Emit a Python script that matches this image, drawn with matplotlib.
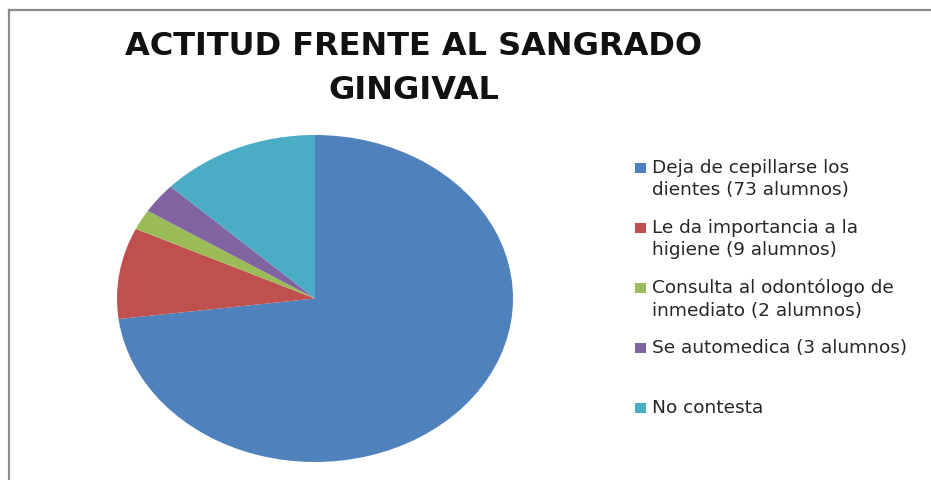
"""Pie chart: actitud frente al sangrado gingival."""

import matplotlib
matplotlib.use("Agg")
import matplotlib.pyplot as plt
from matplotlib.lines import Line2D
from matplotlib.patches import Rectangle

W, H = 931, 481

categories = [
    "Deja de cepillarse los\ndientes (73 alumnos)",
    "Le da importancia a la\nhigiene (9 alumnos)",
    "Consulta al odontólogo de\ninmediato (2 alumnos)",
    "Se automedica (3 alumnos)",
    "No contesta",
]
alumnos = [73, 9, 2, 3, 13]
colors = ["#4F81BD", "#C0504D", "#9BBB59", "#8064A2", "#4BACC6"]
title = "ACTITUD FRENTE AL SANGRADO\nGINGIVAL"


def px(x, y):
    """Pixel position (top-left origin) to figure fraction."""
    return x / W, 1 - y / H


plt.rcParams["font.family"] = ["DejaVu Sans"]

fig = plt.figure(figsize=(W / 100, H / 100), dpi=100)
fig.patch.set_facecolor("white")

# pie area: x 117..513, y 136..463 (elliptical, like the original)
left, top = px(117, 136)
right, bottom = px(513, 463)
ax = fig.add_axes([left, bottom, right - left, top - bottom])
ax.pie(alumnos, colors=colors, startangle=90, counterclock=False,
       wedgeprops={"linewidth": 0})
ax.set_aspect("auto")
ax.set_xlim(-1, 1)
ax.set_ylim(-1, 1)
ax.axis("off")

# title
tx, ty = px(414, 31)
fig.text(tx, ty, title, ha="center", va="top", fontsize=23,
         fontweight="bold", color="#111111", linespacing=1.55)

# legend, one 60 px slot per entry, square aligned with first line
for i, (label, color) in enumerate(zip(categories, colors)):
    yc = 169 + 60 * i
    sx, sy = px(635, yc + 5)
    fig.patches.append(Rectangle((sx, sy), 11 / W, 10 / H, transform=fig.transFigure,
                                 facecolor=color, edgecolor="none"))
    lx, ly = px(652, yc - 10)
    fig.text(lx, ly, label, ha="left", va="top", fontsize=13.3,
             color="#262626", linespacing=1.3)

# chart frame (top and left edges visible)
x0, y0 = px(8.5, 11)
fig.add_artist(Line2D([x0, 1], [y0, y0], color="#8C8C8C", linewidth=1.6,
                      transform=fig.transFigure))
fig.add_artist(Line2D([x0, x0], [0, y0], color="#8C8C8C", linewidth=1.6,
                      transform=fig.transFigure))

fig.savefig("out.png", dpi=100)
